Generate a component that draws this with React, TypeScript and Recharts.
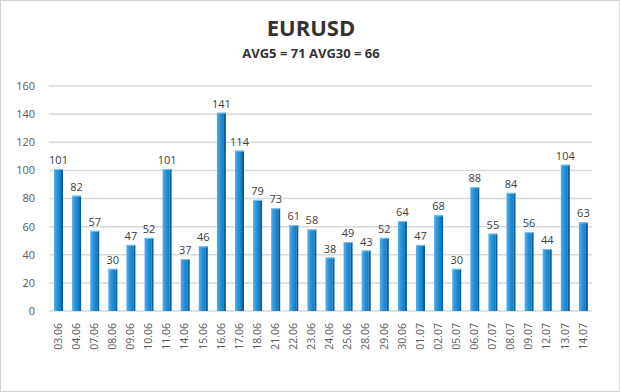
import React from "react";
import { BarChart, Bar, XAxis, YAxis, CartesianGrid, LabelList } from "recharts";

const categories = ["03.06","04.06","07.06","08.06","09.06","10.06","11.06","14.06","15.06","16.06","17.06","18.06","21.06","22.06","23.06","24.06","25.06","28.06","29.06","30.06","01.07","02.07","05.07","06.07","07.07","08.07","09.07","12.07","13.07","14.07"];
const values = [101,82,57,30,47,52,101,37,46,141,114,79,73,61,58,38,49,43,52,64,47,68,30,88,55,84,56,44,104,63];
const yTicks = [0,20,40,60,80,100,120,140,160];
const title = "EURUSD";
const subtitle = "AVG5 = 71 AVG30 = 66";

const data = categories.map((c, i) => ({ day: c, value: values[i] }));

const FONT = "'Open Sans', 'DejaVu Sans', sans-serif";

const BarShape = (props: any) => {
  const { x, y, width, height } = props;
  if (height <= 0) return null;
  const side = 2;
  const fw = width - side;
  return (
    <g>
      <rect x={x} y={y} width={fw} height={height} fill="url(#barFront)" />
      <rect x={x + fw} y={y} width={side} height={height} fill="#0b5e9c" />
      <rect x={x} y={y} width={width} height={1} fill="#7cc3f0" />
    </g>
  );
};

const XTick = (props: any) => {
  const { x, y, payload } = props;
  return (
    <g transform={`translate(${x},${y + 12})`}>
      <text
        transform="rotate(-90)"
        textAnchor="end"
        dy="0.35em"
        fill="#595959"
        fontSize={10.5}
        fontFamily={FONT}
      >
        {payload.value}
      </text>
    </g>
  );
};

export default function App() {
  return (
    <div
      style={{
        position: "absolute",
        left: 0,
        top: 0,
        width: 620,
        height: 392,
        background: "#fff",
        boxSizing: "border-box",
        border: "1px solid #d4d4d4",
        fontFamily: FONT,
      }}
    >
      <div
        style={{
          position: "absolute",
          left: 0,
          top: 12,
          width: 620,
          textAlign: "center",
          fontSize: 22,
          fontWeight: 700,
          color: "#333",
          lineHeight: "28px",
        }}
      >
        {title}
      </div>
      <div
        style={{
          position: "absolute",
          left: 0,
          top: 43,
          width: 620,
          textAlign: "center",
          fontSize: 13,
          fontWeight: 700,
          color: "#333",
          lineHeight: "18px",
        }}
      >
        {subtitle}
      </div>
      <div style={{ position: "absolute", left: -1, top: -1 }}>
        <BarChart
          width={620}
          height={392}
          data={data}
          margin={{ top: 86, right: 28, bottom: 0, left: 0 }}
          barCategoryGap={0}
        >
          <defs>
            <linearGradient id="barFront" x1="0" y1="0" x2="1" y2="0">
              <stop offset="0%" stopColor="#5aaee8" />
              <stop offset="45%" stopColor="#2a94dc" />
              <stop offset="100%" stopColor="#0d7cc6" />
            </linearGradient>
          </defs>
          <CartesianGrid vertical={false} stroke="#d9d9d9" strokeWidth={1.5} />
          <XAxis
            dataKey="day"
            interval={0}
            height={81}
            tickLine={false}
            axisLine={false}
            tickSize={0}
            tickMargin={0}
            tick={<XTick />}
          />
          <YAxis
            width={49}
            domain={[0, 160]}
            ticks={yTicks}
            tickLine={false}
            axisLine={false}
            tickSize={0}
            tickMargin={14}
            tick={{ fill: "#595959", fontSize: 11, fontFamily: FONT }}
          />
          <Bar dataKey="value" barSize={9} isAnimationActive={false} shape={<BarShape />}>
            <LabelList
              dataKey="value"
              position="top"
              offset={5}
              fill="#404040"
              fontSize={11}
              fontFamily={FONT}
            />
          </Bar>
        </BarChart>
      </div>
    </div>
  );
}
